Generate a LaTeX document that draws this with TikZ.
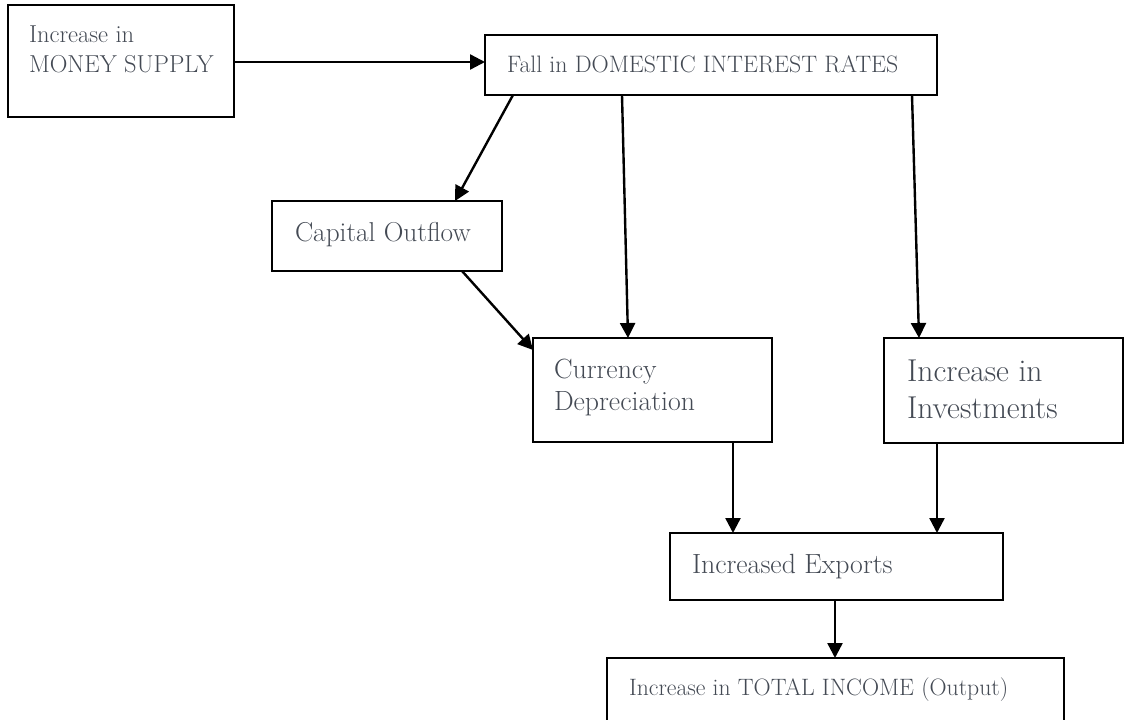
\documentclass[tikz,border=0pt]{standalone}
\usetikzlibrary{arrows.meta,calc}
\definecolor{txtgray}{RGB}{68,74,84}
\begin{document}
\begin{tikzpicture}[x=1bp,y=-1bp,
  box/.style={draw=black,line width=2bp,rectangle,inner sep=0,outer sep=0,anchor=north west},
  lbl/.style={inner sep=0,outer sep=0,text=txtgray,align=left},
  conn/.style={draw=black,line width=2.4bp,-{Triangle[length=15bp,width=15bp]}},
]
\useasboundingbox (0,0) rectangle (1124,720);
\clip (0,0) rectangle (1124,720);
% boxes
\node[box,minimum width=226bp,minimum height=112bp] (money) at (8,5) {};
\node[box,minimum width=452bp,minimum height=60bp] (fall) at (485,35) {};
\node[box,minimum width=230bp,minimum height=70bp] (cap) at (272,201) {};
\node[box,minimum width=239bp,minimum height=104bp] (cur) at (533,338) {};
\node[box,minimum width=239bp,minimum height=105bp] (inv) at (884,338) {};
\node[box,minimum width=333bp,minimum height=67bp] (exp) at (670,533) {};
\node[box,minimum width=457bp,minimum height=90bp] (tot) at (607,658) {};
% labels
\node[lbl,anchor=north west,font=\fontsize{24.5bp}{30bp}\selectfont] (tmoney) at (29,22) {\strut Increase in\\MONEY SUPPLY};
\node[lbl,anchor=base west,font=\fontsize{23.8bp}{28bp}\selectfont] (tfall) at (507,73) {Fall in DOMESTIC INTEREST RATES};
\node[lbl,anchor=base west,font=\fontsize{27.3bp}{30bp}\selectfont] (tcap) at (295,241) {Capital Outflow};
\node[lbl,anchor=north west,font=\fontsize{27.8bp}{32bp}\selectfont] (tcur) at (554,355.6) {\strut Currency\\Depreciation};
\node[lbl,anchor=north west,font=\fontsize{31.6bp}{37bp}\selectfont] (tinv) at (907,355.1) {\strut Increase in\\Investments};
\node[lbl,anchor=base west,font=\fontsize{27.8bp}{30bp}\selectfont] (texp) at (692,573) {Increased Exports};
\node[lbl,anchor=base west,font=\fontsize{23.7bp}{28bp}\selectfont] (ttot) at (629,695) {Increase in TOTAL INCOME (Output)};
% connectors
\draw[conn] ($(money.north east)+(0,57)$) -- ($(fall.north west)+(0,27)$);
\draw[conn] ($(fall.south west)+(28,0)$) -- ($(cap.north west)+(183,0)$);
\draw[conn] ($(cap.south west)+(190,0)$) -- ($(cur.north west)+(0,12)$);
\draw[conn] ($(fall.south west)+(137,0)$) -- ($(cur.north west)+(95,0)$);
\draw[conn] ($(fall.south west)+(427,0)$) -- ($(inv.north west)+(35,0)$);
\draw[conn] ($(cur.south west)+(200,0)$) -- ($(exp.north west)+(63,0)$);
\draw[conn] ($(inv.south west)+(53,0)$) -- ($(exp.north west)+(267,0)$);
\draw[conn] ($(exp.south west)+(165,0)$) -- ($(tot.north west)+(228,0)$);
\end{tikzpicture}
\end{document}
